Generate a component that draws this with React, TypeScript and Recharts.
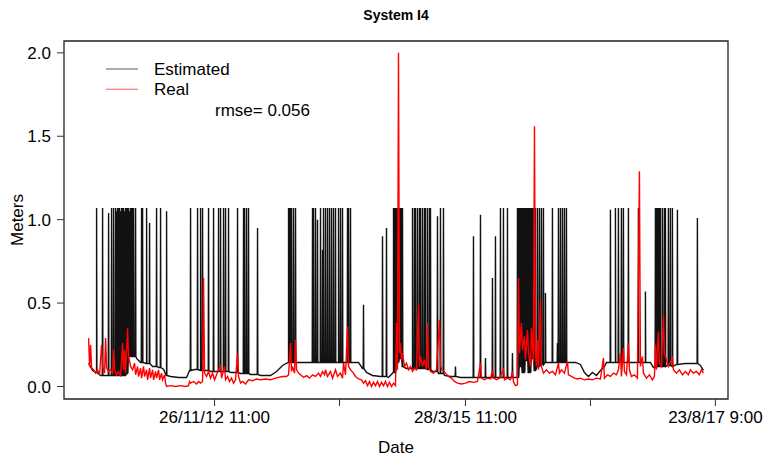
import { LineChart, Line, XAxis, YAxis, Legend, ReferenceArea, Label } from "recharts"

const FONT = '"Liberation Sans", Arial, Helvetica, sans-serif'

// x = position along the record (0 = first reading), labelled with dates
const dateTicks = [126, 251, 377, 502, 627]
const dateLabels = ["26/11/12 11:00", "", "28/3/15 11:00", "", "23/8/17 9:00"]
const meterTicks = [0, 0.5, 1, 1.5, 2]
const rmse = 0.056

// slow level of the estimated series [x, meters]
const estimatedBase: [number, number][] = [
  [0, 0.138], [4, 0.096], [8, 0.084], [12, 0.066], [22, 0.066], [32, 0.066], [38, 0.078],
  [40, 0.18], [44, 0.18], [48, 0.168], [52, 0.144], [58, 0.138], [64, 0.12], [70, 0.114],
  [75, 0.102], [78, 0.066], [82, 0.06], [90, 0.054], [98, 0.054], [101, 0.096], [106, 0.102],
  [112, 0.096], [122, 0.09], [132, 0.09], [142, 0.084], [152, 0.078], [162, 0.072],
  [172, 0.066], [182, 0.066], [188, 0.09], [194, 0.126], [200, 0.144], [212, 0.144],
  [230, 0.144], [250, 0.144], [270, 0.144], [274, 0.108], [278, 0.084], [284, 0.066],
  [292, 0.06], [300, 0.054], [305, 0.084], [308, 0.144], [311, 0.168], [314, 0.12],
  [318, 0.108], [324, 0.108], [332, 0.108], [339, 0.102], [344, 0.09], [350, 0.078],
  [356, 0.066], [362, 0.06], [372, 0.054], [390, 0.054], [410, 0.054], [428, 0.054],
  [431, 0.12], [434, 0.084], [437, 0.156], [440, 0.084], [443, 0.168], [446, 0.096],
  [449, 0.12], [452, 0.132], [457, 0.144], [467, 0.144], [477, 0.144], [487, 0.144],
  [492, 0.132], [496, 0.084], [500, 0.06], [504, 0.084], [508, 0.066], [512, 0.096],
  [516, 0.12], [518, 0.144], [527, 0.144], [537, 0.144], [547, 0.144], [557, 0.144],
  [562, 0.144], [565, 0.114], [569, 0.12], [574, 0.12], [579, 0.126], [584, 0.12],
  [588, 0.132], [597, 0.138], [607, 0.138], [612, 0.126], [615, 0.096],
]

// short-lived peaks of the estimated series [x, peak meters]
const estimatedSpikes: [number, number][] = [
  [8, 1.07], [14, 1.07], [20, 1.04], [23, 1.07], [25, 1.07],
  [27, 1.07], [28, 1.05], [29, 1.07], [30, 1.07], [31, 1.07], [32, 1.05], [33, 1.07],
  [34, 1.07], [35, 1.07], [36, 1.05], [37, 1.07], [38, 1.07], [39, 1.07], [40, 1.07],
  [41, 1.05], [42, 1.07], [43, 1.07], [44, 1.07], [45, 1.07],
  [47, 1.07], [53, 1.07], [54, 1.07], [58, 1.07], [61, 0.98], [68, 1.07], [72, 1.07], [78, 1.05],
  [102, 1.07], [109, 1.07], [112, 1.07], [114, 1.07], [120, 1.07], [125, 1.07], [130, 1.07],
  [132, 1.07], [135, 1.07], [137, 1.07], [140, 1.07], [149, 1.07], [155, 1.07], [156, 1.07],
  [158, 1.07], [160, 1.07], [169, 0.95],
  [200, 1.07], [201, 1.07], [202, 1.07], [203, 1.07], [205, 1.07], [207, 1.07],
  [224, 1.07], [225, 1.07], [227, 1.07], [229, 1.0], [232, 1.07], [234, 0.82], [235, 1.07],
  [237, 1.07], [239, 1.07], [241, 1.07], [243, 1.07], [245, 1.07], [247, 1.07], [250, 1.07],
  [252, 1.07], [254, 1.07], [259, 1.07], [260, 1.07], [262, 1.07],
  [275, 0.49], [294, 0.9], [298, 0.95],
  [305, 1.07], [306, 1.07], [307, 1.07], [308, 1.07], [309, 1.07], [310, 1.07], [311, 1.07],
  [312, 1.07], [313, 1.07], [314, 1.07],
  [324, 1.07], [326, 1.07], [327, 1.07], [329, 1.07], [331, 1.07], [332, 1.07], [334, 1.07],
  [336, 1.07], [337, 1.07], [339, 1.07], [341, 1.07], [342, 1.07],
  [349, 1.02], [352, 1.07], [355, 1.07], [367, 0.12],
  [385, 0.9], [392, 1.03], [397, 0.17], [404, 0.65], [407, 0.9], [412, 1.07], [415, 1.07],
  [419, 1.07], [424, 0.2],
  [429, 1.07], [430, 1.07], [431, 1.07], [432, 1.07], [433, 1.07], [434, 1.07], [435, 1.07],
  [436, 1.07], [437, 1.07], [438, 1.07], [439, 1.07], [440, 1.07], [441, 1.07], [442, 1.07],
  [443, 1.07], [444, 1.07], [445, 1.07], [446, 1.07], [447, 1.07],
  [449, 1.07], [451, 1.07], [453, 1.07], [455, 1.07], [457, 0.56],
  [464, 1.07], [469, 0.26], [470, 1.07], [472, 1.07], [474, 1.07], [476, 1.07], [478, 1.07],
  [522, 1.06], [527, 1.07], [530, 1.07], [533, 1.07], [535, 1.07], [540, 1.07], [550, 1.07],
  [557, 0.57],
  [567, 1.07], [568, 1.07], [569, 1.07], [570, 1.07], [571, 1.07], [572, 1.07], [574, 1.07],
  [576, 1.07], [577, 1.07], [580, 1.07], [582, 1.07], [584, 1.07], [589, 1.06], [609, 1.01],
]

// measured level [x, meters]
const realLevel: [number, number][] = [
  [0, 0.29], [1, 0.12], [2, 0.25], [3, 0.11], [5, 0.1], [7, 0.08], [9, 0.1], [11, 0.07],
  [13, 0.25], [14, 0.12], [16, 0.08], [17, 0.29], [18, 0.11], [20, 0.09], [22, 0.1], [24, 0.08],
  [25, 0.22], [26, 0.1], [28, 0.07], [30, 0.09], [32, 0.06], [34, 0.26], [35, 0.1], [36, 0.22],
  [37, 0.08], [39, 0.35], [40, 0.18], [42, 0.12], [44, 0.1], [46, 0.14], [47, 0.07], [49, 0.12],
  [50, 0.06], [52, 0.11], [53, 0.05], [55, 0.12], [56, 0.06], [58, 0.1], [59, 0.04], [61, 0.11],
  [62, 0.05], [64, 0.1], [65, 0.04], [67, 0.09], [68, 0.05], [70, 0.1], [71, 0.04], [73, 0.08],
  [74, 0.04], [76, 0.07], [77, 0.02], [78, 0.0], [82, 0.005], [87, 0.0], [92, 0.005], [97, 0.0],
  [100, 0.005], [101, 0.03], [102, 0.02], [105, 0.03], [108, 0.015], [110, 0.03], [112, 0.02],
  [114, 0.03], [115, 0.65], [116, 0.08], [118, 0.06], [120, 0.09], [122, 0.05], [124, 0.08],
  [126, 0.04], [128, 0.07], [130, 0.1], [132, 0.13], [133, 0.05], [136, 0.12], [137, 0.04],
  [139, 0.06], [141, 0.03], [143, 0.05], [145, 0.02], [147, 0.04], [149, 0.2], [150, 0.06],
  [152, 0.02], [154, 0.03], [157, 0.015], [160, 0.04], [164, 0.035], [168, 0.045], [172, 0.04],
  [177, 0.045], [182, 0.04], [187, 0.05], [190, 0.055], [194, 0.06], [198, 0.06], [200, 0.07],
  [202, 0.26], [203, 0.09], [204, 0.12], [206, 0.08], [207, 0.28], [208, 0.1], [210, 0.08],
  [212, 0.07], [215, 0.055], [218, 0.065], [221, 0.05], [224, 0.07], [227, 0.06], [230, 0.08],
  [232, 0.06], [234, 0.09], [236, 0.07], [237, 0.1], [239, 0.06], [242, 0.09], [244, 0.05],
  [247, 0.1], [249, 0.06], [252, 0.08], [254, 0.05], [255, 0.14], [257, 0.07], [259, 0.36],
  [260, 0.12], [262, 0.1], [265, 0.08], [267, 0.06], [270, 0.045], [273, 0.04], [275, 0.02],
  [277, 0.035], [279, 0.005], [281, 0.03], [283, 0.0], [285, 0.025], [287, 0.005], [289, 0.03],
  [291, 0.0], [293, 0.025], [295, 0.005], [297, 0.03], [299, 0.0], [301, 0.025], [303, 0.0],
  [305, 0.02], [307, 0.005], [308, 0.38], [309, 0.1], [310, 2.0], [311, 0.2], [312, 0.26],
  [313, 0.16], [314, 0.2], [316, 0.12], [318, 0.14], [320, 0.1], [322, 0.12], [324, 0.09],
  [326, 0.11], [328, 0.1], [330, 0.5], [331, 0.12], [332, 0.18], [334, 0.12], [336, 0.16],
  [338, 0.1], [339, 0.38], [340, 0.12], [342, 0.09], [345, 0.08], [348, 0.1], [351, 0.4],
  [352, 0.12], [354, 0.1], [357, 0.08], [360, 0.06], [363, 0.05], [366, 0.03], [369, 0.02],
  [373, 0.015], [377, 0.02], [381, 0.03], [385, 0.025], [389, 0.03], [392, 0.14], [393, 0.05],
  [396, 0.04], [399, 0.05], [402, 0.045], [404, 0.1], [405, 0.05], [408, 0.04], [411, 0.05],
  [415, 0.1], [416, 0.04], [419, 0.05], [422, 0.04], [424, 0.09], [425, 0.03], [427, 0.005],
  [429, 0.01], [430, 0.65], [431, 0.2], [433, 0.38], [434, 0.22], [436, 0.3], [437, 0.16],
  [439, 0.34], [440, 0.2], [442, 0.12], [443, 0.35], [445, 0.15], [446, 1.56], [447, 0.2],
  [448, 0.12], [449, 0.28], [450, 0.1], [452, 0.52], [453, 0.12], [455, 0.08], [458, 0.1],
  [461, 0.08], [464, 0.09], [467, 0.07], [470, 0.14], [471, 0.08], [473, 0.1], [476, 0.08],
  [479, 0.15], [480, 0.07], [483, 0.06], [486, 0.05], [489, 0.045], [492, 0.05], [496, 0.04],
  [500, 0.045], [504, 0.04], [508, 0.05], [512, 0.045], [515, 0.17], [516, 0.05], [519, 0.07],
  [522, 0.06], [525, 0.08], [528, 0.07], [530, 0.1], [532, 0.2], [533, 0.06], [535, 0.23],
  [536, 0.09], [538, 0.07], [540, 0.26], [541, 0.1], [543, 0.06], [546, 0.07], [549, 0.05],
  [551, 1.29], [552, 0.12], [554, 0.18], [555, 0.08], [558, 0.05], [561, 0.07], [564, 0.04],
  [566, 0.06], [567, 0.25], [568, 0.1], [570, 0.33], [571, 0.14], [573, 0.12], [575, 0.43],
  [576, 0.2], [578, 0.16], [580, 0.12], [582, 0.15], [584, 0.17], [585, 0.1], [588, 0.08],
  [591, 0.1], [594, 0.07], [597, 0.09], [600, 0.07], [602, 0.1], [605, 0.08], [608, 0.09],
  [611, 0.07], [613, 0.1], [615, 0.08],
]

const LEGEND_STROKE: Record<string, string> = { Estimated: "#7f7f7f", Real: "#ff8080" }

// every spike leaves from and returns to the level it sits on
const buildEstimated = () => {
  const pts = estimatedBase.map(([t, v]) => ({ t, v }))
  estimatedSpikes.forEach(([t, top]) => {
    let base = estimatedBase[0][1]
    for (const [bt, bv] of estimatedBase) {
      if (bt > t) break
      base = bv
    }
    pts.push({ t: t - 0.3, v: base }, { t, v: top }, { t: t + 0.3, v: base })
  })
  return pts.sort((a, b) => a.t - b.t)
}

const estimated = buildEstimated()
const real = realLevel.map(([t, v]) => ({ t, v }))

const LegendBox = ({ payload }: any) => (
  <svg width={260} height={64} style={{ display: "block", fontFamily: FONT }}>
    {(payload || []).map((e: any, i: number) => (
      <g key={e.value}>
        <line x1={6} x2={38} y1={11 + i * 20.3} y2={11 + i * 20.3} stroke={LEGEND_STROKE[e.value]} strokeWidth={1.3} />
        <text x={54} y={11 + i * 20.3} dy="0.36em" fontSize={17} fill="#000">
          {e.value}
        </text>
      </g>
    ))}
    <text x={115} y={52} dy="0.36em" fontSize={17} fill="#000">
      rmse= {rmse.toFixed(3)}
    </text>
  </svg>
)

const MetersLabel = ({ viewBox }: any) => {
  const cy = viewBox.y + viewBox.height / 2
  return (
    <text x={17} y={cy} dy="0.36em" textAnchor="middle" fontSize={17} fontFamily={FONT} fill="#000" transform={`rotate(-90, 17, ${cy})`}>
      Meters
    </text>
  )
}

export default function App() {
  return (
    <div style={{ position: "absolute", left: 0, top: 0, width: 764, height: 457, background: "#fff" }}>
      <LineChart width={764} height={457} margin={{ top: 41, right: 36, bottom: 0, left: 0 }}>
        <XAxis
          type="number"
          dataKey="t"
          domain={[-24.6, 639.6]}
          allowDataOverflow
          ticks={dateTicks}
          interval={0}
          tickFormatter={(v: number) => dateLabels[dateTicks.indexOf(v)]}
          axisLine={false}
          tickSize={7}
          tickMargin={5}
          tickLine={{ stroke: "#333" }}
          tick={{ fill: "#000", fontSize: 17, fontFamily: FONT }}
          height={58}
        >
          <Label value="Date" position="insideBottom" offset={4} fill="#000" fontSize={17} fontFamily={FONT} />
        </XAxis>
        <YAxis
          type="number"
          domain={[-0.075, 2.071]}
          allowDataOverflow
          ticks={meterTicks}
          interval={0}
          tickFormatter={(v: number) => v.toFixed(1)}
          axisLine={false}
          tickSize={7}
          tickMargin={6}
          tickLine={{ stroke: "#333" }}
          tick={{ fill: "#000", fontSize: 17, fontFamily: FONT }}
          width={64}
        >
          <Label content={<MetersLabel />} />
        </YAxis>
        <Line data={estimated} dataKey="v" name="Estimated" type="linear" stroke="#111" strokeWidth={1.4} dot={false} isAnimationActive={false} />
        <Line data={real} dataKey="v" name="Real" type="linear" stroke="#ff0000" strokeWidth={1.4} dot={false} isAnimationActive={false} />
        <ReferenceArea x1={-24.6} x2={639.6} y1={-0.075} y2={2.071} fill="none" stroke="#222" strokeWidth={1.3} ifOverflow="visible" />
        <Legend
          layout="vertical"
          align="center"
          verticalAlign="middle"
          content={<LegendBox />}
          wrapperStyle={{ left: 100, top: 58, width: 260, height: 64 }}
        />
      </LineChart>
      <svg width={764} height={32} style={{ position: "absolute", left: 0, top: 0 }}>
        <text x={396} y={20} textAnchor="middle" fontSize={14} fontWeight="bold" fontFamily={FONT} fill="#000">
          System I4
        </text>
      </svg>
    </div>
  )
}
